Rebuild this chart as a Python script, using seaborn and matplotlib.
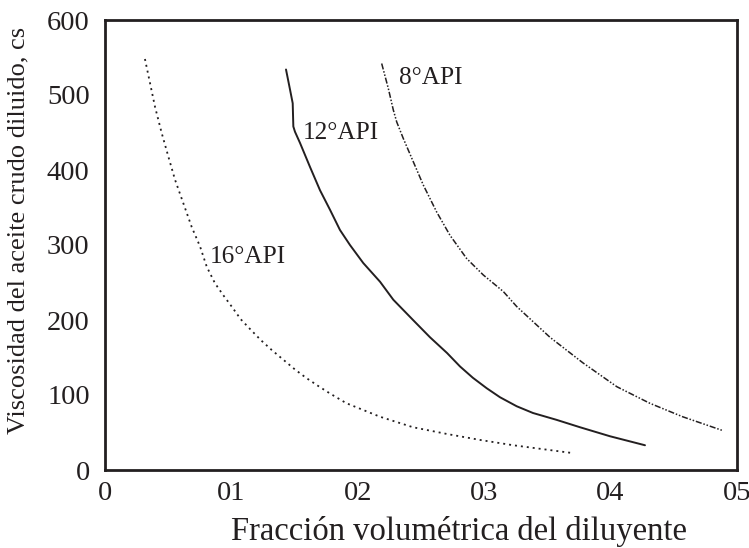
import matplotlib
matplotlib.use("Agg")
import matplotlib.pyplot as plt
import seaborn as sns
import pandas as pd

# Fraction of diluent (x) vs. viscosity of diluted crude (cs) for three oil gravities
x_16api = [0.0316, 0.0356, 0.0396, 0.0449, 0.0501, 0.0554, 0.0619, 0.0686, 0.0752,
           0.0805, 0.087, 0.0936, 0.1002, 0.1074, 0.1153, 0.1234, 0.1319, 0.1411,
           0.1503, 0.159, 0.1687, 0.178, 0.191, 0.2176, 0.2437, 0.2706, 0.297,
           0.323, 0.350, 0.368]
y_16api = [548, 516, 484, 449, 418, 387, 356, 324, 298,
           271, 249, 233, 218, 201, 187, 173, 160, 147,
           134, 123, 112, 102, 89, 71, 57, 48, 40,
           33, 27, 23]

x_12api = [0.1432, 0.1464, 0.1485, 0.1490, 0.1503, 0.1543, 0.1622, 0.1701, 0.178,
           0.1859, 0.1938, 0.2043, 0.2176, 0.2281, 0.2437, 0.2571, 0.2706, 0.2809,
           0.291, 0.302, 0.3125, 0.3257, 0.3386, 0.357, 0.3758, 0.3995, 0.4272]
y_12api = [534, 507, 489, 458, 451, 436, 404, 373, 347,
           320, 300, 276, 251, 227, 200, 177, 156, 138,
           123, 109, 97, 85, 76, 67, 57, 45, 33]

x_8api = [0.2189, 0.2241, 0.2281, 0.2308, 0.236, 0.2439, 0.2518, 0.2624, 0.2729,
          0.2861, 0.2993, 0.3151, 0.3257, 0.352, 0.378, 0.405, 0.431, 0.457, 0.488]
y_8api = [542, 509, 480, 464, 442, 411, 380, 344, 313,
          282, 260, 238, 218, 177, 143, 111, 89, 71, 53]

x_ticks = [0, 0.1, 0.2, 0.3, 0.4, 0.5]
x_tick_labels = ["0", "01", "02", "03", "04", "05"]
y_ticks = [0, 100, 200, 300, 400, 500, 600]

curve_labels = ["16°API", "12°API", "8°API"]

sns.set_theme(style="white")
plt.rcParams["font.family"] = ["Liberation Serif", "DejaVu Serif"]

ink = "#231f20"

fig = plt.figure(figsize=(7.49, 5.48), dpi=100)
ax = fig.add_axes([105 / 749, 1 - 470 / 548, 632 / 749, 450 / 548])

series = [
    (x_16api, y_16api, dict(lw=1.3, dashes=(1.1, 2.2))),
    (x_12api, y_12api, dict(lw=1.4)),
    (x_8api, y_8api, dict(lw=1.1, dashes=(4, 1.2, 1, 1.2, 1, 1.2))),
]
for (xs, ys, style), name in zip(series, curve_labels):
    df = pd.DataFrame({"x": xs, "y": ys})
    line_style = dict(style)
    dashes = line_style.pop("dashes", None)
    sns.lineplot(data=df, x="x", y="y", ax=ax, color=ink, sort=False,
                 estimator=None, **line_style)
    line = ax.lines[-1]
    line.set_solid_joinstyle("round")
    if dashes is not None:
        line.set_dashes(dashes)

# Curve annotations
label_kw = dict(fontsize=18.2, color=ink, va="center", ha="left")
ax.text(0.083, 284, curve_labels[0], **label_kw)
ax.text(0.1566, 449, curve_labels[1], **label_kw)
ax.text(0.2326, 523, curve_labels[2], **label_kw)

ax.set_xlim(0, 0.5)
ax.set_ylim(0, 600)
ax.set_xticks(x_ticks)
ax.set_xticklabels(x_tick_labels)
ax.set_yticks(y_ticks)
ax.tick_params(axis="both", length=0, labelsize=20.5, colors=ink)
ax.tick_params(axis="x", pad=8)
ax.tick_params(axis="y", pad=11)

for spine in ax.spines.values():
    spine.set_linewidth(2.0)
    spine.set_color(ink)

ax.set_xlabel("Fracción volumétrica del diluyente", fontsize=23.5, color=ink)
ax.xaxis.set_label_coords(0.56, -0.103)
ax.set_ylabel("Viscosidad del aceite crudo diluido, cs", fontsize=19, color=ink)
ax.yaxis.set_label_coords(-0.12, 0.533)

fig.savefig("out.png", dpi=100)
